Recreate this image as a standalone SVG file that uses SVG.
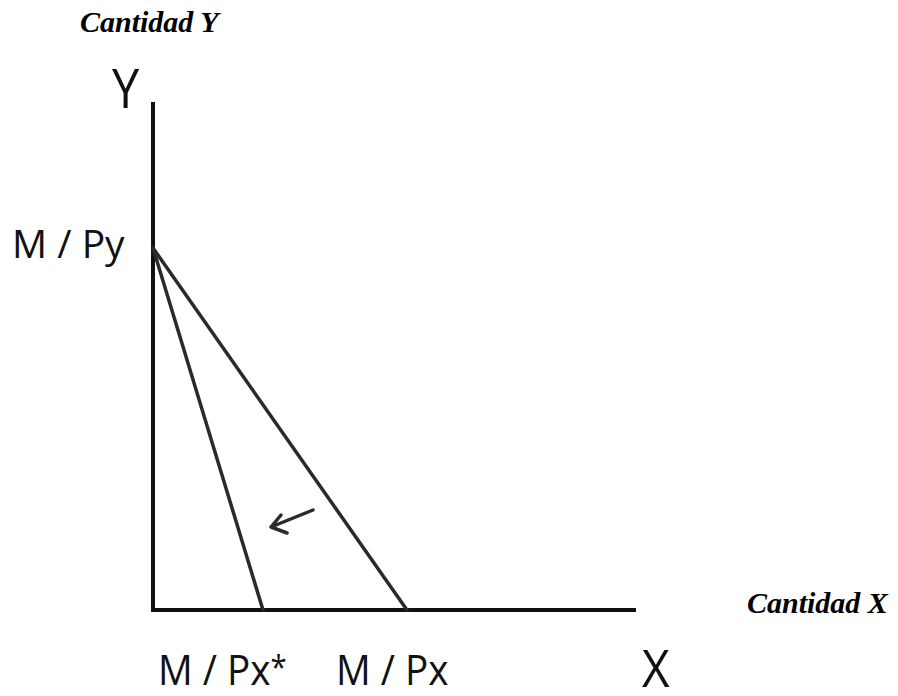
<svg xmlns="http://www.w3.org/2000/svg" width="898" height="696" viewBox="0 0 898 696">
<style>
.ttl{font-family:"Liberation Serif",serif;font-weight:bold;font-style:italic;font-size:30px;fill:#000}
.lbl{font-family:"Open Sans","Liberation Sans",sans-serif;fill:#111}
.ax{stroke:#111;stroke-width:4;fill:none;stroke-linecap:square}
.bl{stroke:#2a2a2a;stroke-width:3.5;fill:none;stroke-linecap:round}
</style>
<rect width="898" height="696" fill="#fff"/>
<text class="ttl" x="80" y="32">Cantidad Y</text>
<text class="ttl" x="747" y="613">Cantidad X</text>
<g id="axes">
<path class="ax" d="M153,104 L153,610 L634,610"/>
<text class="lbl" x="112" y="108" font-size="54" transform="translate(112,108) scale(0.9,1) translate(-112,-108)">Y</text>
<text class="lbl" x="642" y="687" font-size="52" transform="translate(642,687) scale(0.92,1) translate(-642,-687)">X</text>
</g>
<g id="labels">
<text class="lbl" x="12" y="258" font-size="39">M / Py</text>
<text class="lbl" x="158" y="685" font-size="42" transform="translate(158,685) scale(0.92,1) translate(-158,-685)">M / Px<tspan font-size="32" dy="-6">*</tspan></text>
<text class="lbl" x="336" y="685" font-size="42" transform="translate(336,685) scale(0.92,1) translate(-336,-685)">M / Px</text>
</g>
<g id="connectors">
<path class="bl" d="M153,248 L407,610"/>
<path class="bl" d="M153,248 L263,610"/>
<path class="bl" d="M313,510 L271,527 M271,527 L281,515 M271,527 L287,533" stroke-width="2.8"/>
</g>
</svg>
